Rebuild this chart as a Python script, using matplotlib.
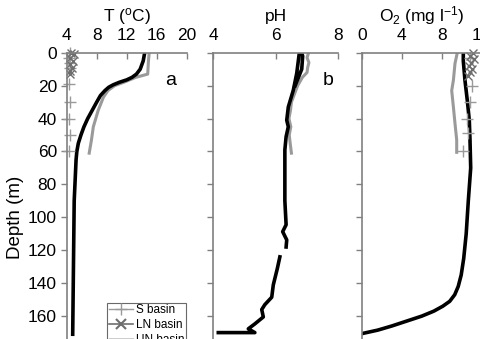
import numpy as np
import matplotlib
matplotlib.use("Agg")
import matplotlib.pyplot as plt
from matplotlib.lines import Line2D

plt.rcParams['font.family'] = ['Liberation Sans', 'DejaVu Sans']
plt.rcParams['mathtext.fontset'] = 'custom'
plt.rcParams['mathtext.rm'] = 'Liberation Sans'
plt.rcParams['mathtext.it'] = 'Liberation Sans'

# ---- Temperature (panel a)
t_un_depth = [0, 5, 10, 13, 15, 16.5, 18, 19.5, 21, 23, 26, 30, 35, 40, 45, 50, 55, 60, 65, 70, 90, 130, 171]
t_un_val = [14.4, 14.2, 13.8, 13.3, 12.7, 12.0, 11.0, 10.2, 9.6, 9.1, 8.5, 8.0, 7.4, 6.8, 6.3, 5.9, 5.55, 5.35, 5.25, 5.2, 5.0, 4.9, 4.8]
t_s_depth = [0, 5, 13, 15, 18, 20, 23, 27, 35, 45, 53, 61]
t_s_val = [15.0, 14.9, 14.8, 13.2, 11.6, 10.4, 9.5, 8.9, 8.2, 7.55, 7.3, 7.0]
t_s_mk_depth = [0, 3, 6, 9, 19, 30, 40, 50, 60]
t_s_mk_val = [4.4, 4.3, 4.5, 4.4, 4.3, 4.4, 4.3, 4.4, 4.3]
t_ln_mk_depth = [0, 1, 3, 5, 7, 9, 11, 13]
t_ln_mk_val = [4.6, 5.0, 4.5, 4.8, 4.4, 4.7, 4.5, 4.4]

# ---- pH (panel b)
ph_un_depth = [20, 10, 2, 0, 0.5, 5, 12.5, 22.8, 33, 41, 45, 51, 59, 72, 90, 104.5, 108.7, 113.7, 118,
               np.nan, 124, 131, 141, 148.5, 153, 156, 160.5, 164.7, 167.7, 170, 170]
ph_un_val = [6.62, 6.83, 6.86, 6.82, 6.75, 6.72, 6.67, 6.56, 6.40, 6.35, 6.40, 6.33, 6.29, 6.29, 6.29, 6.33, 6.22, 6.35, 6.33,
             np.nan, 6.13, 6.05, 5.92, 5.87, 5.65, 5.55, 5.60, 5.33, 5.12, 5.33, 4.16]
ph_s_depth = [0, 3, 6, 9, 12, 15, 20, 25, 30, 35, 40, 45, 50, 55, 61]
ph_s_val = [7.05, 7.0, 7.06, 7.02, 7.0, 6.85, 6.7, 6.6, 6.5, 6.47, 6.42, 6.48, 6.43, 6.46, 6.5]

# ---- Oxygen (panel c)
o2_un_depth = [0, 5, 17, 29, 41, 53, 70, 90, 110, 125, 135, 142, 147, 151, 154, 157, 160, 163, 166, 168.5, 170.5]
o2_un_val = [10.16, 10.16, 10.33, 10.56, 10.76, 10.83, 10.9, 10.66, 10.45, 10.2, 9.95, 9.65, 9.3, 8.8, 8.1, 7.2, 6.0, 4.5, 3.0, 1.6, 0.1]
o2_s_depth = [0, 6.5, 16.7, 23, 33, 43, 53, 60.5]
o2_s_val = [9.56, 9.33, 9.17, 9.0, 9.17, 9.33, 9.5, 9.5]
o2_s_mk_depth = [3, 20, 30, 40.5, 49, 59.5]
o2_s_mk_val = [10.8, 11.0, 10.83, 10.5, 10.66, 10.16]
o2_ln_mk_depth = [0, 2, 4, 6, 8, 10, 12, 14]
o2_ln_mk_val = [11.1, 10.8, 11.2, 10.9, 10.7, 11.0, 10.8, 10.6]

titles = ['T ($\\mathregular{^{o}}$C)', 'pH', 'O$\\mathregular{_2}$ (mg l$\\mathregular{^{-1}}$)']
xlims = [(4, 20), (4, 8), (0, 12)]
xticks = [[4, 8, 12, 16, 20], [4, 6, 8], [0, 4, 8, 12]]
yticks = [0, 20, 40, 60, 80, 100, 120, 140, 160]
legend_labels = ['S basin', 'LN basin', 'UN basin']

W, H = 480, 339
fig = plt.figure(figsize=(W / 100, H / 100), dpi=100)
top_px, bot_px = 52.7, 382
lefts = [66.7, 213.3, 361.7]
widths = [120.0, 125.0, 120.0]

spine_col = '#808080'
gray = '#9a9a9a'
dgray = '#6e6e6e'
fs = 12.5

axes = []
for i in range(3):
    ax = fig.add_axes([lefts[i] / W, 1 - bot_px / H, widths[i] / W, (bot_px - top_px) / H])
    ax.set_xlim(*xlims[i])
    ax.set_ylim(200, 0)
    ax.xaxis.tick_top()
    ax.xaxis.set_label_position('top')
    ax.set_xticks(xticks[i])
    ax.set_yticks(yticks)
    for s in ['right', 'bottom']:
        ax.spines[s].set_visible(False)
    for s in ['left', 'top']:
        ax.spines[s].set_color(spine_col)
        ax.spines[s].set_linewidth(1.2)
    ax.tick_params(axis='x', direction='in', length=4, width=1, color=spine_col, labelsize=fs, pad=7)
    ax.tick_params(axis='y', direction='out', length=4, width=1, color=spine_col, labelsize=fs, pad=3)
    if i > 0:
        ax.set_yticklabels([])
    ax.set_xlabel(titles[i], fontsize=fs, labelpad=5)
    axes.append(ax)

axes[0].set_ylabel('Depth (m)', fontsize=13.5, labelpad=3)

lw_b = 2.6
ax = axes[0]
ax.plot(t_s_val, t_s_depth, color=gray, lw=2.2)
ax.plot(t_un_val, t_un_depth, color='black', lw=lw_b)
ax.plot(t_s_mk_val, t_s_mk_depth, ls='none', marker='+', ms=9, mew=1, color=gray, clip_on=False)
ax.plot(t_ln_mk_val, t_ln_mk_depth, ls='none', marker='x', ms=6, mew=1, color=dgray, clip_on=False)
ax.text(17.8, 17, 'a', fontsize=14, ha='center', va='center')

ax = axes[1]
ax.plot(ph_s_val, ph_s_depth, color=gray, lw=2.2)
ax.plot(ph_un_val, ph_un_depth, color='black', lw=lw_b)
ax.text(7.68, 17, 'b', fontsize=14, ha='center', va='center')

ax = axes[2]
ax.plot(o2_s_val, o2_s_depth, color=gray, lw=2.2)
ax.plot(o2_un_val, o2_un_depth, color='black', lw=lw_b)
ax.plot(o2_s_mk_val, o2_s_mk_depth, ls='none', marker='+', ms=9, mew=1, color=gray, clip_on=False)
ax.plot(o2_ln_mk_val, o2_ln_mk_depth, ls='none', marker='x', ms=6, mew=1, color=dgray, clip_on=False)

handles = [Line2D([], [], color=gray, lw=1, marker='+', ms=8, mew=1),
           Line2D([], [], color=dgray, lw=1.2, marker='x', ms=7, mew=1.5),
           Line2D([], [], color='black', lw=1)]
leg = axes[0].legend(handles, legend_labels, loc='upper left',
                     bbox_to_anchor=((107.3 - 66.7) / 120, 1 - (302.7 - top_px) / (bot_px - top_px)),
                     fontsize=8.5, frameon=True, fancybox=False, edgecolor='#444444',
                     handlelength=2.0, handletextpad=0.3, borderpad=0.15, labelspacing=0.25,
                     borderaxespad=0)
leg.get_frame().set_linewidth(0.8)

fig.savefig('out.png', dpi=100)
